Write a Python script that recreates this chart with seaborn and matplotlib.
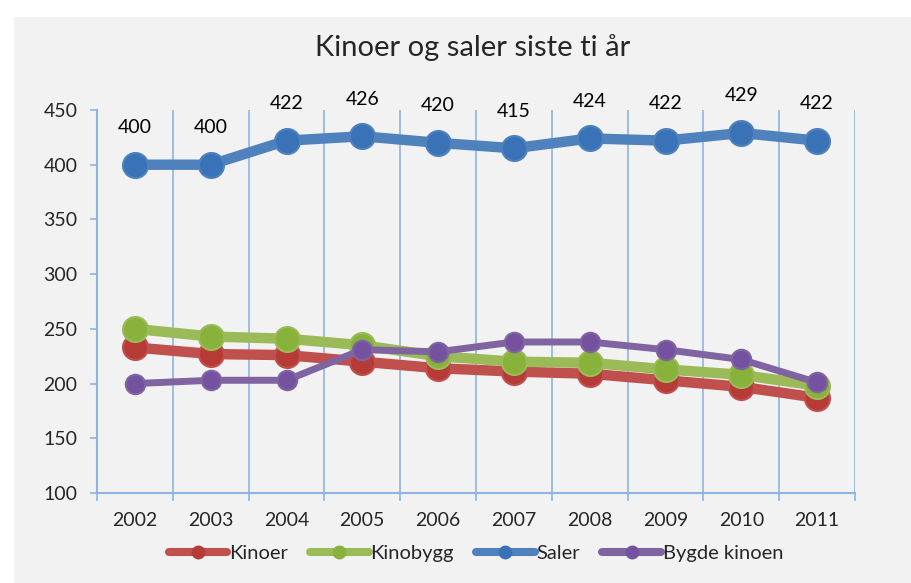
import numpy as np
import pandas as pd
import seaborn as sns
import matplotlib.pyplot as plt
from matplotlib.patches import Rectangle
from matplotlib.lines import Line2D

sns.set_theme(style="white")
plt.rcParams['font.family'] = ['Lato', 'DejaVu Sans']

years = [2002, 2003, 2004, 2005, 2006, 2007, 2008, 2009, 2010, 2011]
kinoer = [233, 227, 226, 220, 214, 211, 209, 203, 197, 187]
kinobygg = [250, 243, 241, 235, 225, 220, 219, 213, 208, 198]
saler = [400, 400, 422, 426, 420, 415, 424, 422, 429, 422]
bygde = [200, 203, 203, 231, 229, 238, 238, 231, 222, 201]

series = ["Kinoer", "Kinobygg", "Saler", "Bygde kinoen"]
line_colors = ["#C0504D", "#9BBB59", "#4F81BD", "#8064A2"]
face_colors = ["#B63A36", "#89B23B", "#3A72B8", "#7552A0"]

df = pd.DataFrame({
    "År": years * 4,
    "Antall": kinoer + kinobygg + saler + bygde,
    "Serie": np.repeat(series, len(years)),
})

blue = "#8EB4E3"
bg = "#F2F2F2"

fig = plt.figure(figsize=(9.12, 5.83), dpi=100)
fig.patch.set_facecolor("white")
fig.patches.append(Rectangle((14 / 912, 0), 1, 566 / 583, transform=fig.transFigure,
                             facecolor=bg, edgecolor="none", zorder=-10))
ax = fig.add_axes([97 / 912, 1 - 493 / 583, 758 / 912, 383 / 583])
ax.set_facecolor(bg)

for name, lc, fc in zip(series, line_colors, face_colors):
    thin = name == "Bygde kinoen"
    sns.lineplot(data=df[df["Serie"] == name], x="År", y="Antall", ax=ax,
                 color=lc, linewidth=5 if thin else 7.5, marker="o",
                 markersize=14 if thin else 18, markerfacecolor=fc,
                 markeredgecolor=lc, markeredgewidth=1.5)
if ax.get_legend():
    ax.get_legend().remove()

for x, v in zip(years, saler):
    ax.annotate(str(v), (x, v), xytext=(0, 37), textcoords="offset pixels",
                ha="center", va="center", fontsize=14, color="black")

ax.set_xlim(2001.5, 2011.5)
ax.set_ylim(100, 450)
ax.set_xticks(np.arange(2001.5, 2012, 1))
ax.set_xticklabels([])
ax.set_xticks(years, minor=True)
ax.set_xticklabels(years, minor=True)
ax.set_yticks(range(100, 451, 50))
ax.tick_params(axis="x", which="major", length=6, width=1.2, color=blue, bottom=True)
ax.tick_params(axis="x", which="minor", length=0, pad=14, labelsize=14)
ax.tick_params(axis="y", length=5, width=1.2, color=blue, left=True, pad=9, labelsize=14)
ax.grid(axis="x", which="major", color=blue, linewidth=1.2)
ax.grid(axis="y", visible=False)
for s in ["top", "right"]:
    ax.spines[s].set_visible(False)
for s in ["left", "bottom"]:
    ax.spines[s].set_color(blue)
    ax.spines[s].set_linewidth(1.5)
ax.set_xlabel("")
ax.set_ylabel("")

fig.text(473 / 912, 1 - 48 / 583, "Kinoer og saler siste ti år", ha="center", va="center", fontsize=21)

handles = [Line2D([], [], color=lc, linewidth=5.8, marker="o", markersize=9,
                  markerfacecolor=fc, markeredgecolor=fc, solid_capstyle="round")
           for lc, fc in zip(line_colors, face_colors)]
fig.legend(handles, series, loc="center", bbox_to_anchor=(476 / 912, 1 - 553 / 583), ncol=4,
           frameon=False, fontsize=14.5, handlelength=2.9, columnspacing=1.1,
           handletextpad=0.1)

fig.savefig("out.png", dpi=100)
